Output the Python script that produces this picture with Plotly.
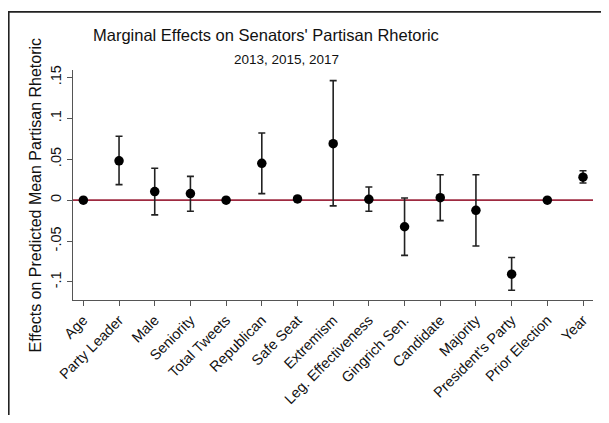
import plotly.graph_objects as go

categories = ["Age", "Party Leader", "Male", "Seniority", "Total Tweets", "Republican",
              "Safe Seat", "Extremism", "Leg. Effectiveness", "Gingrich Sen.", "Candidate",
              "Majority", "President's Party", "Prior Election", "Year"]
estimate = [0.000, 0.048, 0.0105, 0.008, 0.000, 0.045, 0.0015, 0.069, 0.001, -0.0325,
            0.003, -0.0125, -0.0905, 0.000, 0.028]
ci_low = [None, 0.019, -0.018, -0.0135, None, 0.008, None, -0.007, -0.0135, -0.0675,
          -0.025, -0.056, -0.110, None, 0.021]
ci_high = [None, 0.078, 0.039, 0.029, None, 0.082, None, 0.146, 0.016, 0.0027,
           0.031, 0.031, -0.070, None, 0.036]
ytick_vals = [-0.1, -0.05, 0, 0.05, 0.1, 0.15]
ytick_text = ["-.1", "-.05", "0", ".05", ".1", ".15"]

plus = [(h - e) if h is not None else 0 for h, e in zip(ci_high, estimate)]
minus = [(e - l) if l is not None else 0 for l, e in zip(ci_low, estimate)]
xs = list(range(len(categories)))

FONT = "Liberation Sans, Arial, Helvetica, sans-serif"
AX = "#555555"

# figure sits at an 8px page offset; coordinates below are in figure pixels
W, H = 593, 407
L, R, T, B = 65, 8, 62, 103
PW, PH = W - L - R, H - T - B


def px(x):
    return (x - L) / PW


def py(y):
    return (H - B - y) / PH


fig = go.Figure()
fig.add_trace(go.Scatter(
    x=xs, y=estimate, mode="markers",
    marker=dict(color="black", size=9.5),
    error_y=dict(type="data", symmetric=False, array=plus, arrayminus=minus,
                 color="#222222", thickness=1.6, width=3.5),
    showlegend=False, hoverinfo="skip"))

fig.add_shape(type="line", xref="paper", yref="y", x0=0, x1=1, y0=0, y1=0,
              line=dict(color="#9e2a40", width=1.8), layer="below")

# outer frame (only top and left edges fall inside the page)
fig.add_shape(type="rect", xref="paper", yref="paper", x0=px(0.8), x1=px(W + 20),
              y0=py(0.8), y1=py(H + 20), line=dict(color="#222222", width=1.6),
              fillcolor="rgba(0,0,0,0)", layer="below")

fig.update_layout(
    width=W, height=H,
    margin=dict(l=L, r=R, t=T, b=B),
    paper_bgcolor="white", plot_bgcolor="white",
    font=dict(family=FONT, color="#111111"),
    annotations=[
        dict(text="Marginal Effects on Senators' Partisan Rhetoric", xref="paper", yref="paper",
             x=px(258), y=py(25), showarrow=False,
             font=dict(size=16.5, family=FONT, color="#111111"), xanchor="center", yanchor="middle"),
        dict(text="2013, 2015, 2017", xref="paper", yref="paper",
             x=px(278), y=py(51), showarrow=False,
             font=dict(size=13.5, family=FONT, color="#111111"), xanchor="center", yanchor="middle"),
        dict(text="Effects on Predicted Mean Partisan Rhetoric", xref="paper", yref="paper",
             x=px(27), y=py(194), showarrow=False, textangle=-90,
             font=dict(size=16, family=FONT, color="#111111"), xanchor="center", yanchor="middle"),
    ],
)
fig.update_xaxes(
    range=[-0.29, 14.28], tickmode="array", tickvals=xs, ticktext=categories,
    tickangle=-45, ticks="outside", ticklen=5, tickcolor=AX, tickwidth=1,
    showline=True, linecolor=AX, linewidth=1.2, showgrid=False, zeroline=False,
    tickfont=dict(size=14.5, family=FONT, color="#111111"))
fig.update_yaxes(
    range=[-0.122, 0.159], tickmode="array", tickvals=ytick_vals, ticktext=ytick_text,
    tickangle=-90, ticks="outside", ticklen=5, tickcolor=AX, tickwidth=1,
    showline=True, linecolor=AX, linewidth=1.2, showgrid=False, zeroline=False,
    tickfont=dict(size=14.5, family=FONT, color="#111111"))

fig.write_html("out.html")
